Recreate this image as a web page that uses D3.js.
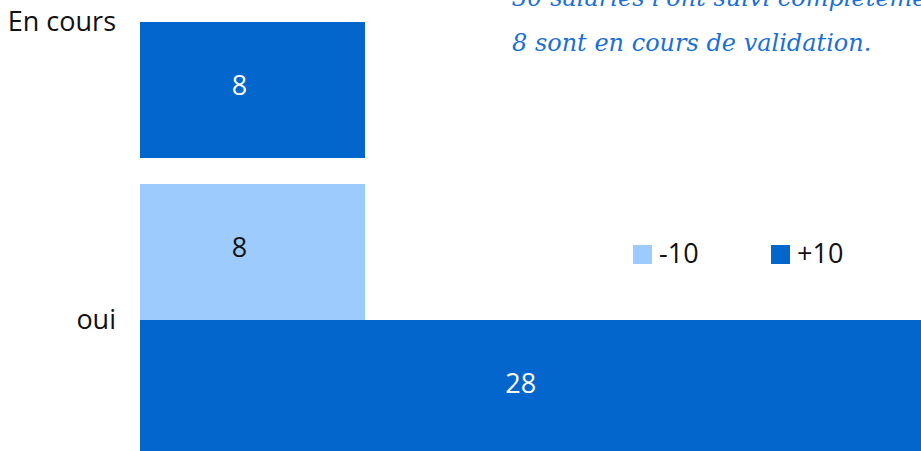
<!DOCTYPE html>
<html>
<head>
<meta charset="utf-8">
<script src="https://cdn.jsdelivr.net/npm/d3@7"></script>
<style>
  body { margin: 0; background: #fff; }
  svg { display: block; }
</style>
</head>
<body>
<svg width="921" height="451"></svg>
<script>
// données
const categories = ["En cours", "oui"];
const series = ["-10", "+10"];
const valeursMoins10 = [0, 8];
const valeursPlus10 = [8, 28];
const couleurs = ["#9dcbfd", "#0366cd"];
const notes = ["30 salariés l'ont suivi complètement", "8 sont en cours de validation."];

const width = 921, height = 451;
const svg = d3.select("svg");
const font = "'Open Sans', 'Noto Sans', sans-serif";
const fs = 27;

// lignes du tableau
const rows = categories.map((c, i) => ({
  cat: c,
  vals: [valeursMoins10[i], valeursPlus10[i]]
}));

// échelles
const y = d3.scaleBand()
  .domain(categories)
  .range([-114, 456])
  .paddingInner(26 / 298)
  .paddingOuter(0);

const ySub = d3.scaleBand()
  .domain(series)
  .range([0, y.bandwidth()]);

const x = d3.scaleLinear()
  .domain([0, 28])
  .range([140, 140 + 28 * 225 / 8]);

const color = d3.scaleOrdinal().domain(series).range(couleurs);

// barres
const groups = svg.selectAll("g.cat")
  .data(rows)
  .enter()
  .append("g")
  .attr("class", "cat")
  .attr("transform", d => `translate(0,${y(d.cat)})`);

const cells = groups.selectAll("g.bar")
  .data(d => d.vals.map((v, j) => ({ s: series[j], v: v })).filter(e => e.v > 0))
  .enter()
  .append("g")
  .attr("class", "bar");

cells.append("rect")
  .attr("x", x(0))
  .attr("y", d => ySub(d.s))
  .attr("width", d => x(d.v) - x(0))
  .attr("height", ySub.bandwidth())
  .attr("fill", d => color(d.s));

// étiquettes de valeur (légèrement décalées comme dans l'original)
cells.append("text")
  .attr("x", d => (x(0) + x(d.v)) / 2 - 13)
  .attr("y", d => ySub(d.s) + ySub.bandwidth() / 2 - 4)
  .attr("dy", "0.35em")
  .attr("text-anchor", "middle")
  .attr("font-family", font)
  .attr("font-size", fs)
  .attr("fill", d => d.s === "+10" ? "#ffffff" : "#111111")
  .text(d => d.v);

// axe des catégories
const yAxis = svg.append("g")
  .attr("transform", "translate(132,0)")
  .call(d3.axisLeft(y).tickSize(0).tickPadding(16));
yAxis.select(".domain").remove();
yAxis.selectAll("text")
  .attr("font-family", font)
  .attr("font-size", fs)
  .attr("fill", "#111");

// légende
const legend = svg.append("g")
  .selectAll("g")
  .data(series)
  .enter()
  .append("g")
  .attr("transform", (d, i) => `translate(${633 + i * 138},245)`);

legend.append("rect")
  .attr("width", 19)
  .attr("height", 19)
  .attr("fill", d => color(d));

legend.append("text")
  .attr("x", 26)
  .attr("y", 8.5)
  .attr("dy", "0.35em")
  .attr("font-family", font)
  .attr("font-size", fs)
  .attr("fill", "#111")
  .text(d => d);

// note manuscrite
svg.append("g")
  .selectAll("text")
  .data(notes)
  .enter()
  .append("text")
  .attr("x", 512)
  .attr("y", (d, i) => 6 + i * 45)
  .attr("font-family", "'DejaVu Serif', serif")
  .attr("font-style", "italic")
  .attr("font-size", 24)
  .attr("fill", "#1c6fd4")
  .text(d => d);
</script>
</body>
</html>
